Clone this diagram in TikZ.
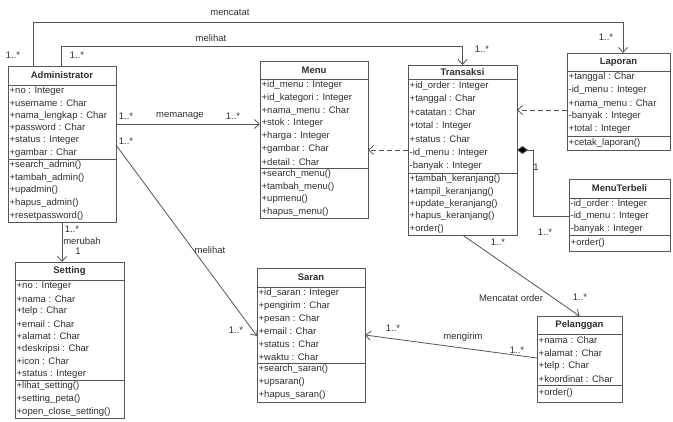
\documentclass[tikz,border=0pt]{standalone}
\usepackage{fontspec}
\setmainfont{Liberation Sans}
\usetikzlibrary{arrows.meta,calc}
\definecolor{ln}{HTML}{555555}
\definecolor{tx}{HTML}{303030}
\tikzset{
 classbox/.style={draw=ln, line width=0.9pt, fill=white, inner sep=0pt, outer sep=0pt},
 sepline/.style={draw=ln, line width=0.9pt},
 titletext/.style={font=\fontsize{9.5}{11}\selectfont\bfseries, text=tx, inner sep=0pt},
 rowtext/.style={font=\fontsize{9.5}{11}\selectfont, text=tx, inner sep=0pt, anchor=west},
 lbl/.style={font=\fontsize{9.5}{11}\selectfont, text=tx, inner sep=0pt},
 assoc/.style={draw=ln, line width=0.8pt, -{Straight Barb[length=5pt,width=9pt]}},
 depend/.style={assoc, dash pattern=on 5pt off 3pt},
 compos/.style={draw=ln, line width=0.8pt, {Diamond[length=11pt,width=8pt,fill=black]}-},
}
\newcommand\umlbox[8]{%
 \node[classbox, anchor=north west, minimum width={(#4)-(#2)}, minimum height={(#5)-(#3)}] (#1) at (#2,#3) {};
 \draw[sepline] (#2,#6) -- (#4,#6);
 \draw[sepline] (#2,#7) -- (#4,#7);
 \node[titletext] (#1-t) at ({(#2+#4)/2},{(#3+#6)/2}) {#8};
}
\newcommand\umlrows[5]{%
 \foreach \rowitem [count=\rowno] in {#5}
  \node[rowtext] (#1-\rowno) at ({#2+1.5},{#3+(\rowno-0.5)*#4}) {\rowitem};
}
\begin{document}
\begin{tikzpicture}[x=1pt,y=-1pt]
\useasboundingbox (0,0) rectangle (673,421);

% Administrator
\umlbox{adm}{8}{66}{116}{222}{85}{159}{Administrator}
\umlrows{adm-a}{8}{85}{12.33}{+no : Integer,+username : Char,+nama\_lengkap : Char,+password : Char,+status : Integer,+gambar : Char}
\umlrows{adm-m}{8}{159}{12.6}{+search\_admin(),+tambah\_admin(),+upadmin(),+hapus\_admin(),+resetpassword()}

% Menu
\umlbox{menu}{260}{61}{368}{218}{79}{168}{Menu}
\umlrows{menu-a}{260}{79}{12.71}{+id\_menu : Integer,+id\_kategori : Integer,+nama\_menu : Char,+stok : Integer,+harga : Integer,+gambar : Char,+detail : Char}
\umlrows{menu-m}{260}{168}{12.5}{+search\_menu(),+tambah\_menu(),+upmenu(),+hapus\_menu()}

% Transaksi
\umlbox{trx}{408}{65}{517}{235}{79}{173}{Transaksi}
\umlrows{trx-a}{408}{79}{13.43}{+id\_order : Integer,+tanggal : Char,+catatan : Char,+total : Integer,+status : Char,-id\_menu : Integer,-banyak : Integer}
\umlrows{trx-m}{408}{173}{12.4}{+tambah\_keranjang(),+tampil\_keranjang(),+update\_keranjang(),+hapus\_keranjang(),+order()}

% Laporan
\umlbox{lap}{567}{53}{670}{150}{71}{136}{Laporan}
\umlrows{lap-a}{567}{71}{13}{+tanggal : Char,-id\_menu : Integer,+nama\_menu : Char,-banyak : Integer,+total : Integer}
\umlrows{lap-m}{567}{136}{14}{+cetak\_laporan()}

% MenuTerbeli
\umlbox{mt}{569}{179}{670}{251}{198}{235}{MenuTerbeli}
\umlrows{mt-a}{569}{198}{12.33}{-id\_order : Integer,-id\_menu : Integer,-banyak : Integer}
\umlrows{mt-m}{569}{235}{16}{+order()}

% Setting
\umlbox{set}{15}{262}{124}{418}{280}{380}{Setting}
\umlrows{set-a}{15}{280}{12.5}{+no : Integer,+nama : Char,+telp : Char,+email : Char,+alamat : Char,+deskripsi : Char,+icon : Char,+status : Integer}
\umlrows{set-m}{15}{380}{12.67}{+lihat\_setting(),+setting\_peta(),+open\_close\_setting()}

% Saran
\umlbox{saran}{257}{268}{365}{402}{287}{363}{Saran}
\umlrows{saran-a}{257}{287}{12.67}{+id\_saran : Integer,+pengirim : Char,+pesan : Char,+email : Char,+status : Char,+waktu : Char}
\umlrows{saran-m}{257}{363}{13}{+search\_saran(),+upsaran(),+hapus\_saran()}

% Pelanggan
\umlbox{pel}{537}{316}{622}{402}{334}{385}{Pelanggan}
\umlrows{pel-a}{537}{334}{12.75}{+nama : Char,+alamat : Char,+telp : Char,+koordinat : Char}
\umlrows{pel-m}{537}{385}{17}{+order()}

% connectors
\coordinate (a1) at ([xshift=25pt]adm.north west);
\coordinate (b1) at ([xshift=56pt]lap.north west);
\draw[assoc] (a1) |- (b1 |- 0,22) -- (b1);

\coordinate (a2) at ([xshift=53pt]adm.north west);
\draw[assoc] (a2) |- (trx.north |- 0,46) -- (trx.north);

\coordinate (a3) at ([yshift=-58pt]adm.north east);
\draw[assoc] (a3) -- (a3 -| menu.west);

\draw[assoc] ([yshift=-79pt]adm.north east) -- ([yshift=-68pt]saran.north west);

\coordinate (a5) at ([xshift=54pt]adm.south west);
\draw[assoc] (a5) -- (a5 |- set.north);

\coordinate (a6) at ([yshift=-85pt]trx.north west);
\draw[depend] (a6) -- (a6 -| menu.east);

\coordinate (a7) at ([yshift=-57pt]lap.north west);
\draw[depend] (a7) -- (a7 -| trx.east);

\coordinate (a8) at ([yshift=-85pt]trx.north east);
\coordinate (b8) at ([yshift=-37pt]mt.north west);
\draw[compos] (a8) -| ($(b8)+(-36,0)$) -- (b8);

\draw[assoc] (trx.south) -- (pel.north);

\draw[assoc] ([yshift=-42pt]pel.north west) -- ([yshift=-67pt]saran.north east);

% labels
\node[lbl] (l1) at (230,12) {mencatat};
\node[lbl] (l2) at (13,55) {1..*};
\node[lbl] (l3) at (77,55) {1..*};
\node[lbl] (l4) at (211,38) {melihat};
\node[lbl] (l5) at (482,49) {1..*};
\node[lbl] (l6) at (606,37) {1..*};
\node[lbl] (l7) at (180,116) {memanage};
\node[lbl] (l8) at (126,116) {1..*};
\node[lbl] (l9) at (233,116) {1..*};
\node[lbl] (l10) at (126,141) {1..*};
\node[lbl] (l11) at (210,250) {melihat};
\node[lbl] (l12) at (236,330) {1..*};
\node[lbl] (l13) at (72,229) {1..*};
\node[lbl] (l14) at (82,241) {merubah};
\node[lbl] (l15) at (78,251) {1};
\node[lbl] (l16) at (536,167) {1};
\node[lbl] (l17) at (545,232) {1..*};
\node[lbl] (l18) at (498,242) {1..*};
\node[lbl] (l19) at (511,298) {Mencatat order};
\node[lbl] (l20) at (580,297) {1..*};
\node[lbl] (l21) at (463,337) {mengirim};
\node[lbl] (l22) at (517,350) {1..*};
\node[lbl] (l23) at (393,328) {1..*};
\end{tikzpicture}
\end{document}
